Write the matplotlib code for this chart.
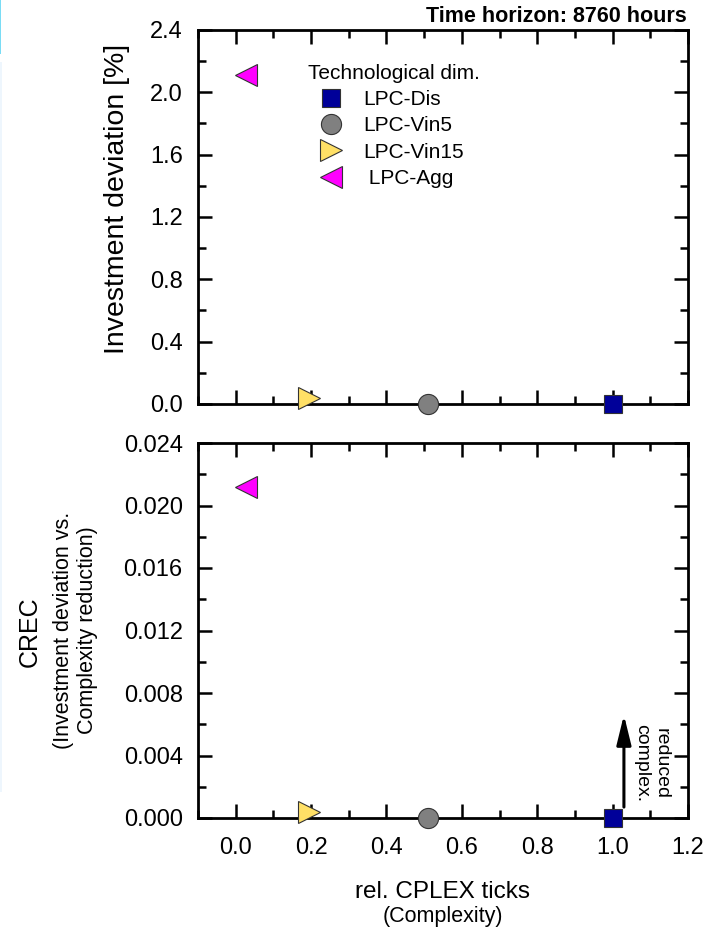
import numpy as np
import matplotlib.pyplot as plt
from matplotlib.ticker import MultipleLocator
from matplotlib.patches import Rectangle

plt.rcParams['font.family'] = ['Liberation Sans', 'DejaVu Sans']

# data
labels = ['LPC-Dis', 'LPC-Vin5', 'LPC-Vin15', ' LPC-Agg']
markers = ['s', 'o', '>', '<']
colors = ['#000099', '#808080', '#FFE066', '#FF00FF']
msizes = [13, 14.5, 16, 16]
rel_ticks = [1.0, 0.51, 0.195, 0.027]
inv_dev = [0.0, 0.0, 0.04, 2.11]
crec = [0.0, 0.0, 0.0004, 0.0212]

W, H = 710, 931


def style_axis(ax, ymajor, yminor):
    ax.set_xlim(-0.1, 1.2)
    ax.xaxis.set_major_locator(MultipleLocator(0.2))
    ax.xaxis.set_minor_locator(MultipleLocator(0.1))
    ax.yaxis.set_major_locator(MultipleLocator(ymajor))
    ax.yaxis.set_minor_locator(MultipleLocator(yminor))
    ax.tick_params(which='both', direction='in', top=True, right=True, width=1.8, labelsize=17)
    ax.tick_params(which='major', length=10)
    ax.tick_params(which='minor', length=5.5)
    ax.tick_params(axis='x', pad=14)
    ax.tick_params(axis='y', pad=11)
    for s in ax.spines.values():
        s.set_linewidth(2)


fig = plt.figure(figsize=(W / 100, H / 100), dpi=100)
ax1 = fig.add_axes([198 / W, 1 - 404 / H, 490 / W, 374 / H])
ax2 = fig.add_axes([198 / W, 1 - 818 / H, 490 / W, 375 / H])

for i in range(len(labels)):
    ax1.plot(rel_ticks[i], inv_dev[i], linestyle='none', marker=markers[i], ms=msizes[i],
             mfc=colors[i], mec='#333333', mew=0.8, clip_on=False, zorder=5, label=labels[i])
    ax2.plot(rel_ticks[i], crec[i], linestyle='none', marker=markers[i], ms=msizes[i],
             mfc=colors[i], mec='#333333', mew=0.8, clip_on=False, zorder=5)

ax1.set_ylim(0, 2.4)
style_axis(ax1, 0.4, 0.2)
ax1.set_xticklabels([])
ax1.yaxis.set_major_formatter(plt.FormatStrFormatter('%.1f'))
fig.text(117 / W, 1 - 199 / H, 'Investment deviation [%]', rotation=90,
         ha='center', va='center', fontsize=20.5)

fig.text(308 / W, 1 - 79 / H, 'Technological dim.', ha='left', va='baseline', fontsize=15)
leg = ax1.legend(loc='upper left', bbox_to_anchor=(316.5 / W, 1 - 90 / H),
                 bbox_transform=fig.transFigure, frameon=False, fontsize=15,
                 handlelength=1.4, handletextpad=0.84, labelspacing=0.35,
                 borderpad=0, borderaxespad=0)

ax2.set_ylim(0, 0.024)
style_axis(ax2, 0.004, 0.002)
ax2.yaxis.set_major_formatter(plt.FormatStrFormatter('%.3f'))

fig.text(443 / W, 1 - 898 / H, 'rel. CPLEX ticks', ha='center', va='baseline', fontsize=17.5)
fig.text(443 / W, 1 - 922 / H, '(Complexity)', ha='center', va='baseline', fontsize=15.5)

fig.text(30 / W, 1 - 632 / H, 'CREC', rotation=90, ha='center', va='center', fontsize=18)
fig.text(75.5 / W, 1 - 630 / H, '(Investment deviation vs.\nComplexity reduction)', rotation=90,
         ha='center', va='center', fontsize=15.5, linespacing=1.2)

ax2.annotate('', xy=(1.03, 0.0066), xytext=(1.03, 0.0007),
             arrowprops=dict(arrowstyle='-|>,head_length=0.9,head_width=0.22', color='black',
                             lw=2.2, mutation_scale=20, shrinkA=0, shrinkB=0))
ax2.text(1.102, 0.0035, 'reduced\ncomplex.', rotation=-90, ha='center', va='center',
         fontsize=14, linespacing=1.2)

fig.text(687 / W, 1 - 22 / H, 'Time horizon: 8760 hours', ha='right', va='baseline',
         fontsize=15.5, fontweight='bold')

# screenshot edge strip on the left
fig.add_artist(Rectangle((0, 1 - 54 / H), 1.5 / W, 54 / H, transform=fig.transFigure,
                         color='#7adcf5', lw=0))
fig.add_artist(Rectangle((0, 1 - 792 / H), 2 / W, 730 / H, transform=fig.transFigure,
                         color='#eef6fd', lw=0))

plt.savefig('out.png', dpi=100)
